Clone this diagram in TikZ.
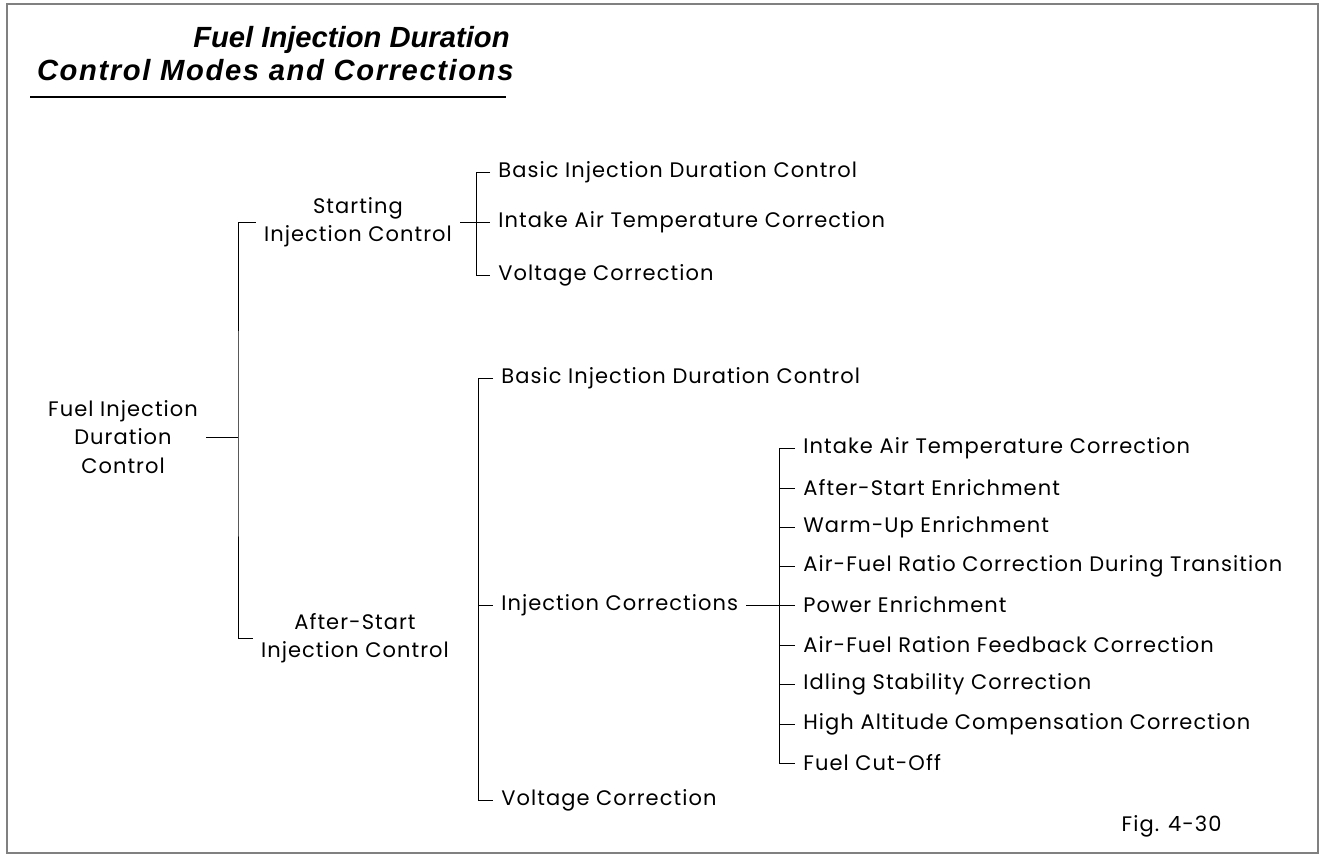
\documentclass[tikz,border=0pt]{standalone}
\usepackage{fontspec}
\usepackage{tikz}
\newfontfamily\labfont[LetterSpace=5]{Poppins}
\newfontfamily\headfont{Liberation Sans}
\newfontfamily\headwide[LetterSpace=5.5]{Liberation Sans}

\begin{document}
\begin{tikzpicture}[x=0.5pt, y=-0.5pt,
        every node/.style={font=\labfont\fontsize{10.5}{14.25}\selectfont, inner xsep=4pt, inner ysep=0pt},
        item/.style={anchor=west},
        head/.style={anchor=east, inner xsep=0pt}]
        \useasboundingbox (0, 0) rectangle (1323, 856);
        \draw[gray, line width=0.6pt] (7, 4) rectangle (1318, 853);

        \node[head, font=\headfont\bfseries\itshape\fontsize{14.6}{15}\selectfont] (title1) at (510, 40) {Fuel Injection Duration};
        \node[head, font=\headwide\bfseries\itshape\fontsize{14.6}{15}\selectfont] (title2) at (514, 70) {Control Modes and Corrections};
        \draw[line width=1.3pt] (30, 97) -- (506, 97);

        \node[align=center] (root) at (123, 437) {Fuel Injection\\Duration\\Control};
        \node[align=center] (start) at (358, 222) {Starting\\Injection Control};
        \node[align=center] (after) at (355, 638) {After-Start\\Injection Control};
        \draw[thin] (root.east) -- (238, 437);
        \draw[thin] (start.west) -| (238, 437) |- (after.west);

        \node[item] (s1) at (490, 172) {Basic Injection Duration Control};
        \node[item] (s2) at (490, 222) {Intake Air Temperature Correction};
        \node[item] (s3) at (490, 275) {Voltage Correction};
        \draw[thin] (start.east) -- (s2.west);
        \draw[thin] (s1.west) -- (476, 172) -- (476, 275) -- (s3.west);

        \node[item] (a1) at (493, 378) {Basic Injection Duration Control};
        \node[item] (a2) at (493, 605) {Injection Corrections};
        \node[item] (a3) at (493, 800) {Voltage Correction};
        \draw[thin] (a1.west) -- (478, 378) -- (478, 800) -- (a3.west);
        \draw[thin] (478, 605) -- (a2.west);

        \node[item] (c1) at (795, 448) {Intake Air Temperature Correction};
        \node[item] (c2) at (795, 488) {After-Start Enrichment};
        \node[item] (c3) at (795, 527) {Warm-Up Enrichment};
        \node[item] (c4) at (795, 566) {Air-Fuel Ratio Correction During Transition};
        \node[item] (c5) at (795, 605) {Power Enrichment};
        \node[item] (c6) at (795, 645) {Air-Fuel Ration Feedback Correction};
        \node[item] (c7) at (795, 684) {Idling Stability Correction};
        \node[item] (c8) at (795, 724) {High Altitude Compensation Correction};
        \node[item] (c9) at (795, 763) {Fuel Cut-Off};
        \draw[thin] (a2.east) -- (c5.west);
        \draw[thin] (c1.west) -- (779, 448) -- (779, 763) -- (c9.west);
        \foreach \k in {2, 3, 4, 6, 7, 8}
            \draw[thin] (779, 0 |- c\k.west) -- (c\k.west);

        \node[anchor=east, inner xsep=0pt] (fig) at (1222, 826) {Fig. 4-30};
    \end{tikzpicture}
\end{document}
